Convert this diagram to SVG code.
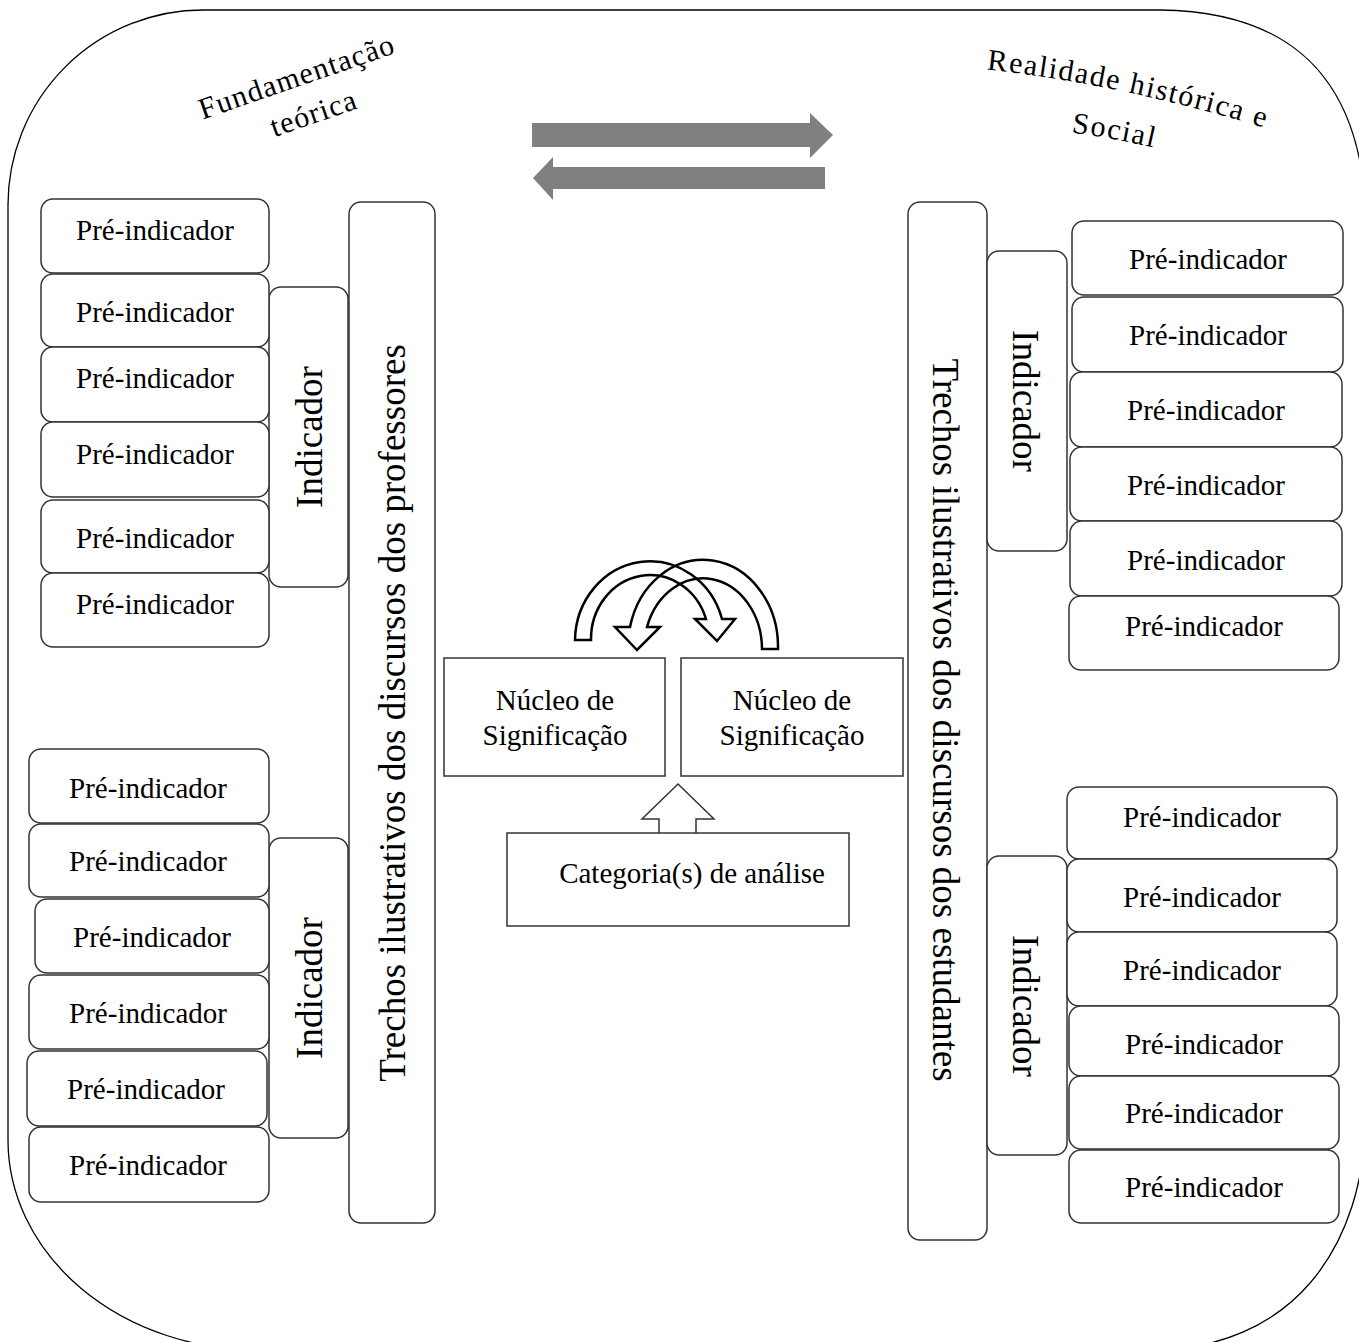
<svg xmlns="http://www.w3.org/2000/svg" width="1359" height="1342" viewBox="0 0 1359 1342">
<style>
.box{fill:#fff;stroke:#333;stroke-width:1.5}
.sq{fill:#fff;stroke:#333;stroke-width:1.5}
.t{font-family:"Liberation Serif","Times New Roman",serif;fill:#000}
.p{font-size:29px;text-anchor:middle}
.v{font-size:37px;text-anchor:middle}
.c{font-size:29px;text-anchor:middle}
.h{font-size:30px}
.outline{fill:none;stroke:#000;stroke-width:1.3}
.curv{fill:none;stroke:#000;stroke-width:2.5;stroke-linejoin:miter}
.gray{fill:#808080}
</style>
<defs>
<path id="arcR1" d="M 980,69 Q 1115,82 1272,130"/>
<path id="arcR2" d="M 1058,131 Q 1112,137 1168,151"/>
</defs>
<rect width="1359" height="1342" fill="#fff"/>
<g id="frame">
<path class="outline" d="M 8,205 A 195,195 0 0 1 203,10 L 1160,10 C 1320,12 1366,110 1366,230 L 1366,1110 C 1366,1250 1290,1350 1150,1350 L 258,1350 A 250,210 0 0 1 8,1140 Z"/>
<text class="t h" transform="translate(300,86) rotate(-19)" text-anchor="middle" letter-spacing="1.2">Fundamentação<tspan x="4" y="40">teórica</tspan></text>
<text class="t h" text-anchor="middle" font-size="30" letter-spacing="1.6"><textPath href="#arcR1" startOffset="50%">Realidade histórica e</textPath></text>
<text class="t h" text-anchor="middle" font-size="30" letter-spacing="1.6"><textPath href="#arcR2" startOffset="50%">Social</textPath></text>
</g>
<g id="connectors">
<polygon class="gray" points="532,123 810,123 810,113 833,135 810,158 810,147 532,147"/>
<polygon class="gray" points="825,167 553,167 553,157 533,178 553,200 553,189 825,189"/>
<path class="curv" d="M575,640 A75,80 0 0 1 722,619 L735,619 L717,641 L695,619 L706,619 A59,64 0 0 0 591,640 Z"/>
<path class="curv" d="M778,649 A75,87 0 0 0 630,627 L615,627 L637,650 L660,627 L647,627 A59,71 0 0 1 762,649 Z"/>
<path fill="#fff" stroke="#333" stroke-width="1.5" d="M659,834 L659,819 L642,819 L678,784 L714,819 L696,819 L696,834"/>
</g>
<g id="trechos-professores"><rect class="box" x="349" y="202" width="86" height="1021" rx="12"/><text class="t v" transform="translate(405,713) rotate(-90)">Trechos ilustrativos dos discursos dos professores</text></g>
<g id="trechos-estudantes"><rect class="box" x="908" y="202" width="79" height="1038" rx="12"/><text class="t v" transform="translate(933,720) rotate(90)">Trechos ilustrativos dos discursos dos estudantes</text></g>
<g id="ind-l1"><rect class="box" x="269" y="287" width="79" height="300" rx="12"/><text class="t v" transform="translate(322,437) rotate(-90)">Indicador</text></g>
<g id="ind-l2"><rect class="box" x="269" y="838" width="79" height="300" rx="12"/><text class="t v" transform="translate(322,988) rotate(-90)">Indicador</text></g>
<g id="ind-r1"><rect class="box" x="987" y="251" width="80" height="300" rx="12"/><text class="t v" transform="translate(1013,401) rotate(90)">Indicador</text></g>
<g id="ind-r2"><rect class="box" x="987" y="856" width="80" height="299" rx="12"/><text class="t v" transform="translate(1013,1006) rotate(90)">Indicador</text></g>
<g id="pl1"><rect class="box" x="41" y="199" width="228" height="74" rx="12"/><text class="t p" x="155" y="240">Pré-indicador</text></g>
<g id="pl2"><rect class="box" x="41" y="274" width="228" height="73" rx="12"/><text class="t p" x="155" y="322">Pré-indicador</text></g>
<g id="pl3"><rect class="box" x="41" y="347" width="228" height="75" rx="12"/><text class="t p" x="155" y="388">Pré-indicador</text></g>
<g id="pl4"><rect class="box" x="41" y="422" width="228" height="75" rx="12"/><text class="t p" x="155" y="464">Pré-indicador</text></g>
<g id="pl5"><rect class="box" x="41" y="500" width="228" height="73" rx="12"/><text class="t p" x="155" y="548">Pré-indicador</text></g>
<g id="pl6"><rect class="box" x="41" y="573" width="228" height="74" rx="12"/><text class="t p" x="155" y="614">Pré-indicador</text></g>
<g id="pl7"><rect class="box" x="29" y="749" width="240" height="74" rx="12"/><text class="t p" x="148" y="798">Pré-indicador</text></g>
<g id="pl8"><rect class="box" x="29" y="824" width="240" height="73" rx="12"/><text class="t p" x="148" y="871">Pré-indicador</text></g>
<g id="pl9"><rect class="box" x="35" y="899" width="234" height="74" rx="12"/><text class="t p" x="152" y="947">Pré-indicador</text></g>
<g id="pl10"><rect class="box" x="29" y="975" width="240" height="74" rx="12"/><text class="t p" x="148" y="1023">Pré-indicador</text></g>
<g id="pl11"><rect class="box" x="27" y="1051" width="240" height="75" rx="12"/><text class="t p" x="146" y="1099">Pré-indicador</text></g>
<g id="pl12"><rect class="box" x="29" y="1127" width="240" height="75" rx="12"/><text class="t p" x="148" y="1175">Pré-indicador</text></g>
<g id="pr1"><rect class="box" x="1072" y="221" width="271" height="74" rx="12"/><text class="t p" x="1208" y="269">Pré-indicador</text></g>
<g id="pr2"><rect class="box" x="1072" y="297" width="271" height="75" rx="12"/><text class="t p" x="1208" y="345">Pré-indicador</text></g>
<g id="pr3"><rect class="box" x="1070" y="372" width="272" height="75" rx="12"/><text class="t p" x="1206" y="420">Pré-indicador</text></g>
<g id="pr4"><rect class="box" x="1070" y="447" width="272" height="74" rx="12"/><text class="t p" x="1206" y="495">Pré-indicador</text></g>
<g id="pr5"><rect class="box" x="1070" y="521" width="272" height="75" rx="12"/><text class="t p" x="1206" y="570">Pré-indicador</text></g>
<g id="pr6"><rect class="box" x="1069" y="596" width="270" height="74" rx="12"/><text class="t p" x="1204" y="636">Pré-indicador</text></g>
<g id="pr7"><rect class="box" x="1067" y="787" width="270" height="72" rx="12"/><text class="t p" x="1202" y="827">Pré-indicador</text></g>
<g id="pr8"><rect class="box" x="1067" y="859" width="270" height="73" rx="12"/><text class="t p" x="1202" y="907">Pré-indicador</text></g>
<g id="pr9"><rect class="box" x="1067" y="932" width="270" height="74" rx="12"/><text class="t p" x="1202" y="980">Pré-indicador</text></g>
<g id="pr10"><rect class="box" x="1069" y="1006" width="270" height="70" rx="12"/><text class="t p" x="1204" y="1054">Pré-indicador</text></g>
<g id="pr11"><rect class="box" x="1069" y="1076" width="270" height="73" rx="12"/><text class="t p" x="1204" y="1123">Pré-indicador</text></g>
<g id="pr12"><rect class="box" x="1069" y="1150" width="270" height="73" rx="12"/><text class="t p" x="1204" y="1197">Pré-indicador</text></g>
<g id="nucleo1"><rect class="sq" x="444" y="658" width="221" height="118"/><text class="t c" x="555" y="710">Núcleo de</text><text class="t c" x="555" y="745">Significação</text></g>
<g id="nucleo2"><rect class="sq" x="681" y="658" width="222" height="118"/><text class="t c" x="792" y="710">Núcleo de</text><text class="t c" x="792" y="745">Significação</text></g>
<g id="categoria"><rect class="sq" x="507" y="833" width="342" height="93"/><text class="t c" x="692" y="883">Categoria(s) de análise</text></g>
</svg>
